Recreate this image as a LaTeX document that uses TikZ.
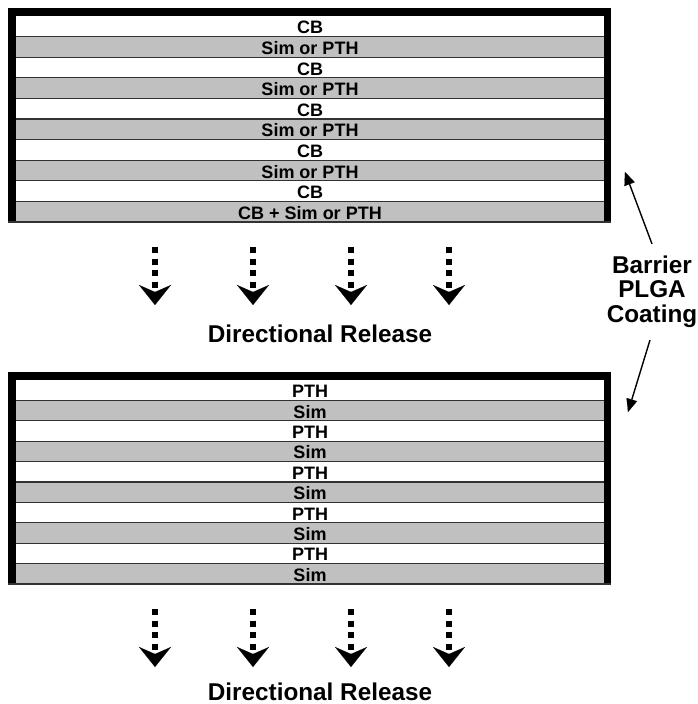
\documentclass[tikz,border=0pt]{standalone}
\usepackage{fontspec}
\setmainfont{Liberation Sans}
\usetikzlibrary{arrows.meta}
\definecolor{barGray}{RGB}{192,192,192}
\definecolor{sepGray}{RGB}{50,50,50}
\begin{document}
\begin{tikzpicture}[x=1pt,y=-1pt,
  rowtxt/.style={font=\bfseries\fontsize{18}{20}\selectfont, anchor=base, inner sep=0pt},
  bigtxt/.style={font=\bfseries\fontsize{24.3}{24.5}\selectfont, inner sep=0pt},
  sepline/.style={draw=sepGray, line width=1.3pt},
  relarrow/.style={line width=5.5pt, dash pattern=on 6pt off 5.5pt,
    -{Stealth[length=20pt,width=32pt,inset=7pt,line width=0.1pt]}},
  coatarrow/.style={line width=1.4pt, -{Triangle[length=13pt,width=11pt,line width=0.1pt]}}
]
\useasboundingbox (0,0) rectangle (697,704);
\fill[white] (0,0) rectangle (697,704);

% ---------- top block ----------
\fill[black] (8,8) rectangle (611,222);
\foreach \i/\c/\t in {0/white/CB, 1/barGray/Sim or PTH, 2/white/CB, 3/barGray/Sim or PTH,
  4/white/CB, 5/barGray/Sim or PTH, 6/white/CB, 7/barGray/Sim or PTH, 8/white/CB,
  9/barGray/CB + Sim or PTH} {
  \pgfmathsetmacro\ya{16+\i*20.6}
  \pgfmathsetmacro\yb{\ya+20.6}
  \fill[\c] (16,\ya) rectangle (604,\yb);
  \ifnum\i>0 \draw[sepline] (16,\ya) -- (604,\ya); \fi
  \node[rowtxt] (top\i) at (310,\ya+17.8) {\t};
}
\draw[sepline] (8,222) -- (611,222);

% ---------- top arrows ----------
\foreach \x [count=\k] in {155,253,351,449} {
  \coordinate (tas\k) at (\x,247);
  \coordinate (tae\k) at (\x,305);
  \draw[relarrow] (tas\k) -- (tae\k);
}
\node[bigtxt, anchor=base] (rel1) at (320,342) {Directional Release};

% ---------- bottom block ----------
\fill[black] (8,372) rectangle (611,584);
\foreach \i/\c/\t in {0/white/PTH, 1/barGray/Sim, 2/white/PTH, 3/barGray/Sim,
  4/white/PTH, 5/barGray/Sim, 6/white/PTH, 7/barGray/Sim, 8/white/PTH, 9/barGray/Sim} {
  \pgfmathsetmacro\ya{380+\i*20.4}
  \pgfmathsetmacro\yb{\ya+20.4}
  \fill[\c] (16,\ya) rectangle (604,\yb);
  \ifnum\i>0 \draw[sepline] (16,\ya) -- (604,\ya); \fi
  \node[rowtxt] (bot\i) at (310,\ya+17.6) {\t};
}
\draw[sepline] (8,584) -- (611,584);

% ---------- bottom arrows ----------
\foreach \x [count=\k] in {155,253,351,449} {
  \coordinate (bas\k) at (\x,609);
  \coordinate (bae\k) at (\x,667);
  \draw[relarrow] (bas\k) -- (bae\k);
}
\node[bigtxt, anchor=base] (rel2) at (320,700) {Directional Release};

% ---------- barrier label ----------
\node[bigtxt, align=center, anchor=base] (coat) at (652,322) {Barrier\\PLGA\\Coating};
\coordinate (cu1) at (652,244);
\coordinate (cu2) at (625,172);
\coordinate (cd1) at (650,340);
\coordinate (cd2) at (628,412);
\draw[coatarrow] (cu1) -- (cu2);
\draw[coatarrow] (cd1) -- (cd2);
\end{tikzpicture}
\end{document}
